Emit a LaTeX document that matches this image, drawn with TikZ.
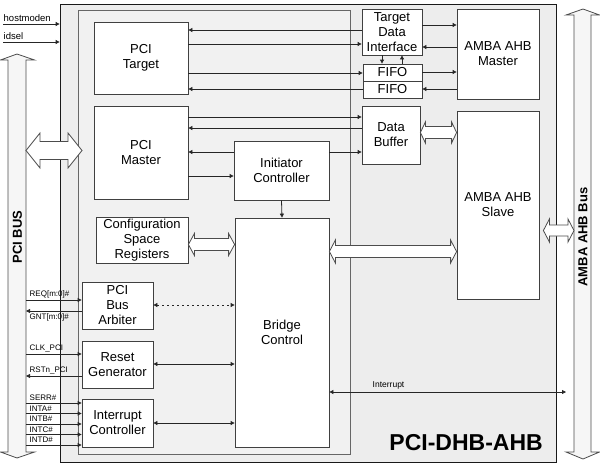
\documentclass[tikz,border=0pt]{standalone}
\usepackage{fontspec}
\setmainfont{Liberation Sans}
\usetikzlibrary{arrows.meta,calc}
\definecolor{outerfill}{HTML}{EDEDED}
\definecolor{innerfill}{HTML}{F1F1F1}
\definecolor{busfill}{HTML}{F6F6F6}
\newcommand\hbig[6]{%
 \draw[big] let \p1=(#1), \p2=(#2), \p3=(0,#3) in
 (\x1,\y3) -- (\x1+#4pt,\y3+#5pt) -- (\x1+#4pt,\y3+#6pt) -- (\x2-#4pt,\y3+#6pt) -- (\x2-#4pt,\y3+#5pt) -- (\x2,\y3)
 -- (\x2-#4pt,\y3-#5pt) -- (\x2-#4pt,\y3-#6pt) -- (\x1+#4pt,\y3-#6pt) -- (\x1+#4pt,\y3-#5pt) -- cycle;}
\begin{document}
\begin{tikzpicture}[x=1pt,y=-1pt,
 blk/.style={draw=black!75, fill=white, line width=0.8pt, align=center, inner sep=0pt,
   font=\fontsize{13}{15}\selectfont},
 arr/.style={draw=black!85, line width=0.8pt, -{Triangle[length=4pt,width=4pt]}},
 darr/.style={draw=black!85, line width=0.8pt, {Triangle[length=4pt,width=4pt]}-{Triangle[length=4pt,width=4pt]}},
 big/.style={draw=black!70, fill=white, line width=0.8pt},
 bus/.style={draw=black!70, fill=busfill, line width=0.8pt},
 lbl/.style={font=\fontsize{8}{9}\selectfont, inner sep=0.5pt, anchor=south west},
 toplbl/.style={font=\fontsize{9.5}{11}\selectfont, inner sep=0.5pt, anchor=south west},
 buslbl/.style={rotate=90, font=\bfseries\fontsize{13}{15}\selectfont, inner sep=0pt}]
\useasboundingbox (0,0) rectangle (600,466);
% containers
\node[draw=black!90, fill=outerfill, line width=0.8pt, minimum width=496pt, minimum height=458pt, inner sep=0pt] (outer) at (308,233) {};
\node[draw=black!60, fill=innerfill, line width=0.8pt, minimum width=272pt, minimum height=444pt, inner sep=0pt] (inner) at (214,232) {};
% buses
\draw[bus] (17,54) -- (34.5,60) -- (26,60) -- (26,452) -- (34.5,452) -- (17,458) -- (0.5,452) -- (8,452) -- (8,60) -- (0.5,60) -- cycle;
\draw[bus] (583,9) -- (599.5,15) -- (591,15) -- (591,452) -- (599.5,452) -- (583,459) -- (566,452) -- (574,452) -- (574,15) -- (566,15) -- cycle;
\node[buslbl] (pcibus) at (17.5,237) {PCI BUS};
\node[buslbl] (ahbbus) at (583,237) {AMBA AHB Bus};
\coordinate (pcibusE) at (26,237);
\coordinate (ahbbusW) at (574,237);
\coordinate (mstport) at (82,150);
\coordinate (intend) at (566,392);
\coordinate (hostin) at (3,24);
\coordinate (idselin) at (3,42);
% blocks
\node[blk, minimum width=94pt, minimum height=72pt] (tgt) at (141,58) {PCI\\Target};
\node[blk, minimum width=94pt, minimum height=93pt] (mst) at (141,152.5) {PCI\\Master};
\node[blk, minimum width=92pt, minimum height=46pt] (cfg) at (142,240) {Configuration\\Space\\Registers};
\node[blk, minimum width=71pt, minimum height=47pt] (arb) at (117.5,305.5) {PCI\\Bus\\Arbiter};
\node[blk, minimum width=71pt, minimum height=47pt] (rst) at (117.5,364.5) {Reset\\Generator};
\node[blk, minimum width=71pt, minimum height=48pt] (intc) at (117.5,423) {Interrupt\\Controller};
\node[blk, minimum width=95pt, minimum height=59pt] (init) at (281.5,170.5) {Initiator\\Controller};
\node[blk, minimum width=94pt, minimum height=229pt] (brg) at (282,332.5) {Bridge\\Control};
\node[blk, minimum width=60pt, minimum height=46pt] (tdi) at (392,32) {Target\\Data\\Interface};
\node[blk, minimum width=59pt, minimum height=17pt] (fifo1) at (392.5,72.5) {FIFO};
\node[blk, minimum width=59pt, minimum height=17pt] (fifo2) at (392.5,89.5) {FIFO};
\node[blk, minimum width=58pt, minimum height=58pt] (dbuf) at (391,135) {Data\\Buffer};
\node[blk, minimum width=82pt, minimum height=90pt] (ahbm) at (498,54) {AMBA AHB\\Master};
\node[blk, minimum width=82pt, minimum height=188pt] (ahbs) at (498,205) {AMBA AHB\\Slave};
% big double arrows
\hbig{pcibusE}{mstport}{150.5}{14}{17.5}{9}
\hbig{dbuf.east}{ahbs.west}{132.5}{5}{10.5}{6}
\hbig{cfg.east}{brg.west}{244.5}{6}{11}{6}
\hbig{brg.east}{ahbs.west}{251.5}{6}{11.5}{6}
\hbig{[xshift=4pt]ahbs.east}{ahbbusW}{230.5}{6}{11.5}{5.5}
% top inputs
\draw[arr] (hostin) -- (outer.west |- hostin);
\draw[arr] (idselin) -- (outer.west |- idselin);
\node[toplbl] (hostlbl) at (3,22) {hostmoden};
\node[toplbl] (idsellbl) at (3,40) {idsel};
% target / master connections
\draw[arr] (tdi.west |- 0,30) -- (tgt.east |- 0,30);
\draw[arr] (tgt.east |- 0,44) -- (tdi.west |- 0,44);
\draw[arr] (tgt.east |- 0,73) -- (fifo1.west |- 0,73);
\draw[arr] (fifo2.west |- 0,89) -- (tgt.east |- 0,89);
\draw[arr] (mst.east |- 0,117) -- (dbuf.west |- 0,117);
\draw[arr] (dbuf.west |- 0,128) -- (mst.east |- 0,128);
\draw[arr] (init.west |- 0,152) -- (mst.east |- 0,152);
\draw[arr] (mst.east |- 0,176) -- (init.west |- 0,176);
\draw[arr] (init.east |- 0,152) -- (dbuf.west |- 0,152);
\draw[arr] (init.south) -- (brg.north);
\draw[arr] (tdi.south -| 382,0) -- (fifo1.north -| 382,0);
\draw[arr] (fifo1.north -| 402,0) -- (tdi.south -| 402,0);
\draw[arr] (tdi.east |- 0,25) -- (ahbm.west |- 0,25);
\draw[arr] (ahbm.west |- 0,47) -- (tdi.east |- 0,47);
\draw[arr] (fifo1.east |- 0,72) -- (ahbm.west |- 0,72);
\draw[arr] (ahbm.west |- 0,89) -- (fifo2.east |- 0,89);
% arbiter
\draw[arr] (pcibusE |- 0,300) -- (arb.west |- 0,300);
\draw[arr] (arb.west |- 0,311) -- (pcibusE |- 0,311);
\node[lbl] (reqlbl) at (29,298.5) {REQ[m:0]\#};
\node[lbl, anchor=north west] (gntlbl) at (29,313) {GNT[m:0]\#};
\draw[darr, dash pattern=on 2pt off 3pt] (arb.east |- 0,305) -- (brg.west |- 0,305);
% reset
\draw[arr] (pcibusE |- 0,354) -- (rst.west |- 0,354);
\draw[arr] (rst.west |- 0,376) -- (pcibusE |- 0,376);
\node[lbl] (clklbl) at (29,352.5) {CLK\_PCI};
\node[lbl] (rstlbl) at (29,374.5) {RSTn\_PCI};
\draw[darr] (rst.east |- 0,364) -- (brg.west |- 0,364);
% interrupts
\foreach \yy/\tt/\nm in {403/SERR\#/serr, 413.5/INTA\#/inta, 424/INTB\#/intb, 434.5/INTC\#/intc, 445/INTD\#/intd}{
  \draw[arr] (pcibusE |- 0,\yy) -- (intc.west |- 0,\yy);
  \node[lbl] (\nm lbl) at (29,\yy-1.5) {\tt};
}
\draw[darr] (intc.east |- 0,423) -- (brg.west |- 0,423);
\draw[darr] (brg.east |- intend) -- (intend);
\node[lbl, font=\fontsize{8.5}{10}\selectfont] (intlbl) at (372,390) {Interrupt};
% title
\node[anchor=east, font=\bfseries\fontsize{23}{26}\selectfont, inner sep=0pt] (title) at (543,443) {PCI-DHB-AHB};
\end{tikzpicture}
\end{document}
